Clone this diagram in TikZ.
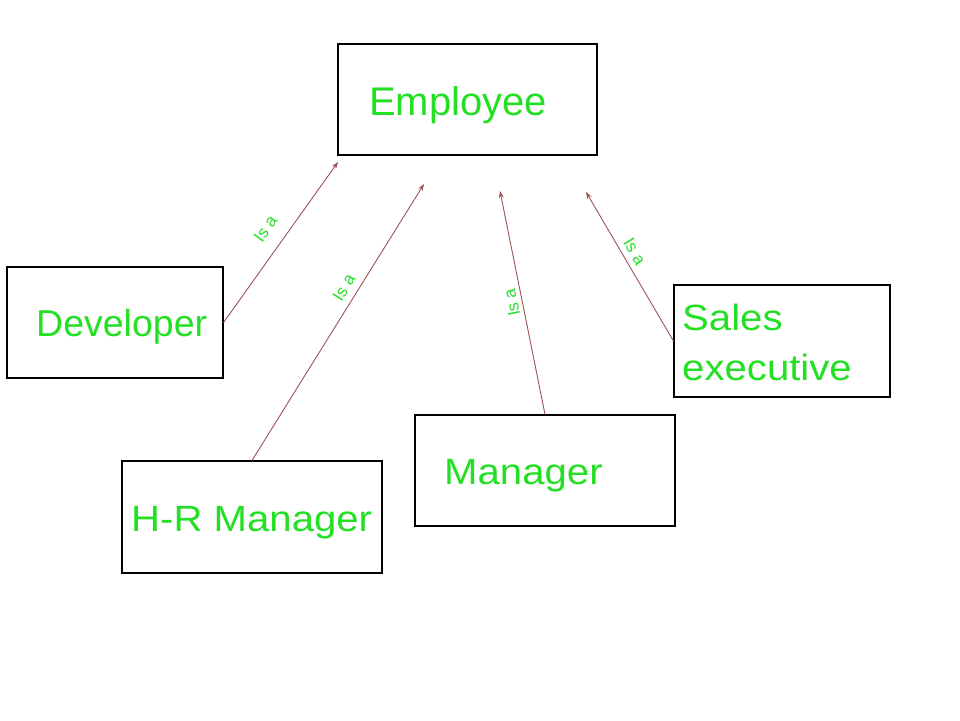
\documentclass[tikz,border=0pt]{standalone}
\usepackage{fontspec}
\setmainfont{Liberation Sans}
\newfontfamily\widefont{Liberation Sans}[FakeStretch=1.1]
\usetikzlibrary{arrows.meta}
\definecolor{txtgreen}{RGB}{36,224,36}
\definecolor{arrred}{RGB}{160,82,82}
\begin{document}
\begin{tikzpicture}[x=1pt,y=-1pt,
  box/.style={draw=black, line width=1.1pt, inner sep=0pt, rectangle},
  lbl/.style={text=txtgreen, inner sep=0pt, anchor=base west},
  isa/.style={-{Stealth[length=7pt,width=5pt]}, draw=arrred, line width=0.9pt},
  isatext/.style={text=txtgreen, font=\fontsize{17}{17}\selectfont, inner sep=0pt, sloped}]
\useasboundingbox[fill=white] (0,0) rectangle (960,720);

% boxes
\node[box, minimum width=259pt, minimum height=111pt] (emp) at (467.5,99.5) {};
\node[box, minimum width=216pt, minimum height=111pt] (dev) at (115,322.5) {};
\node[box, minimum width=260pt, minimum height=112pt] (hr) at (252,517) {};
\node[box, minimum width=260pt, minimum height=111pt] (mgr) at (545,470.5) {};
\node[box, minimum width=216pt, minimum height=112pt] (sales) at (782,341) {};

% texts
\node[lbl, font=\fontsize{40}{40}\selectfont] (tEmp) at (369,115) {Employee};
\node[lbl, font=\fontsize{37.5}{37.5}\selectfont] (tDev) at (36,336) {Developer};
\node[lbl, font=\widefont\fontsize{36.5}{36.5}\selectfont] (tHr) at (131,531) {H-R Manager};
\node[lbl, font=\widefont\fontsize{36.5}{36.5}\selectfont] (tMgr) at (444,484) {Manager};
\node[text=txtgreen, inner sep=0pt, anchor=west, align=left,
      font=\widefont\fontsize{36.5}{50}\selectfont] (tSales) at (682,342) {Sales\\executive};

% arrow ends
\coordinate (e1) at (338,162);
\coordinate (e2) at (424,184);
\coordinate (e3) at (500,191);
\coordinate (e4) at (586,192);

% connectors
\draw[isa] (dev.east) -- (e1) node[isatext, pos=0.51, above=14pt] {Is a};
\draw[isa] (hr.north) -- (e2) node[isatext, pos=0.6, above=7pt] {Is a};
\draw[isa] (mgr.north) -- (e3) node[isatext, allow upside down, pos=0.51, above=4pt] {Is a};
\draw[isa] (sales.west) -- (e4) node[isatext, pos=0.56, above=5.5pt] {Is a};
\end{tikzpicture}
\end{document}
